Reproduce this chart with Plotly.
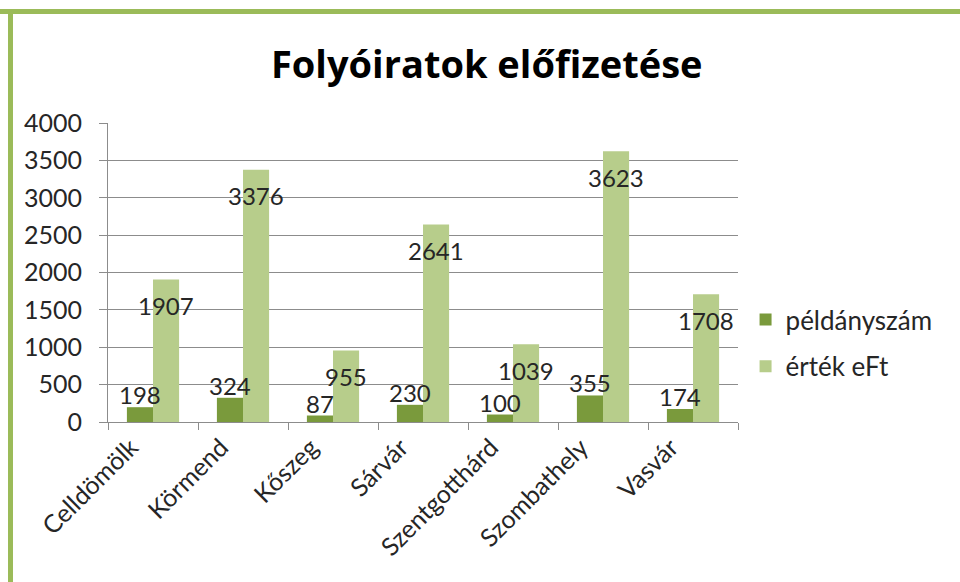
import plotly.graph_objects as go

categories = ["Celldömölk", "Körmend", "Kőszeg", "Sárvár", "Szentgotthárd", "Szombathely", "Vasvár"]
peldanyszam = [198, 324, 87, 230, 100, 355, 174]
ertek_eft = [1907, 3376, 955, 2641, 1039, 3623, 1708]
y_ticks = [0, 500, 1000, 1500, 2000, 2500, 3000, 3500, 4000]

DARK = "#7A9A3C"
LIGHT = "#B7CD8B"
TXT = "#262626"
FONT = "Lato, 'Open Sans', sans-serif"
TITLE_FONT = "'Open Sans', Lato, sans-serif"

W, H = 960, 582
ML, MR, MT, MB = 108, 222, 123, 160
PW, PH = W - ML - MR, H - MT - MB
BARGAP = 0.42
step = PW / len(categories)
bar_w = step * (1 - BARGAP) / 2

fig = go.Figure()
fig.add_trace(go.Bar(
    x=categories, y=peldanyszam, name="példányszám",
    marker=dict(color=DARK, line=dict(width=0)),
    legendgroup="a",
))
fig.add_trace(go.Bar(
    x=categories, y=ertek_eft, name="érték eFt",
    marker=dict(color=LIGHT, line=dict(width=0)),
    legendgroup="b",
))

annotations = []
for c, v in zip(categories, peldanyszam):
    annotations.append(dict(x=c, y=v, xref="x", yref="y", text=str(v),
                            showarrow=False, xshift=-bar_w / 2, yanchor="bottom", yshift=-4,
                            font=dict(family=FONT, size=24, color=TXT)))
for c, v in zip(categories, ertek_eft):
    annotations.append(dict(x=c, y=v, xref="x", yref="y", text=str(v),
                            showarrow=False, xshift=bar_w / 2, yanchor="middle", yshift=-26,
                            font=dict(family=FONT, size=24, color=TXT)))

fig.update_layout(
    width=W, height=H,
    paper_bgcolor="white", plot_bgcolor="white",
    margin=dict(l=ML, r=MR, t=MT, b=MB, autoexpand=False),
    barmode="group", bargap=BARGAP, bargroupgap=0,
    title=dict(text="Folyóiratok előfizetése", x=0.507, xanchor="center",
               y=0.888, yanchor="middle",
               font=dict(family=TITLE_FONT, size=38, color="black", weight="bold")),
    legend=dict(x=1.012, xanchor="left", y=0.264, yanchor="middle",
                font=dict(family=FONT, size=26, color=TXT),
                tracegroupgap=10, bgcolor="rgba(0,0,0,0)"),
    showlegend=True,
    font=dict(family=FONT, size=25, color=TXT),
    annotations=annotations,
    shapes=[
        dict(type="line", xref="paper", yref="paper", x0=-ML / PW, x1=(W - ML) / PW,
             y0=(H - MB - 11.5) / PH, y1=(H - MB - 11.5) / PH,
             line=dict(color="#9BBB59", width=5)),
        dict(type="line", xref="paper", yref="paper", x0=-(ML - 10.5) / PW, x1=-(ML - 10.5) / PW,
             y0=-MB / PH, y1=(H - MB - 9) / PH,
             line=dict(color="#9BBB59", width=5)),
    ],
)
fig.update_yaxes(
    range=[0, 4000], tickvals=y_ticks, ticktext=[str(v) for v in y_ticks],
    showgrid=True, gridcolor="#8C8C8C", gridwidth=1,
    showline=True, linecolor="#8C8C8C", linewidth=1,
    ticks="outside", ticklen=8, tickcolor="#8C8C8C",
    ticklabelstandoff=12, zeroline=False, automargin=False,
    tickfont=dict(family=FONT, size=25, color=TXT),
)
fig.update_xaxes(
    tickangle=-45, showline=True, linecolor="#8C8C8C", linewidth=1,
    ticks="outside", ticklen=7, tickcolor="#8C8C8C", tickson="boundaries",
    showgrid=False, automargin=False, ticklabelshift=-22,
    tickfont=dict(family=FONT, size=25, color=TXT),
)

fig.write_html("out.html", config={"displayModeBar": False},
               post_script="document.body.style.margin='0';")
